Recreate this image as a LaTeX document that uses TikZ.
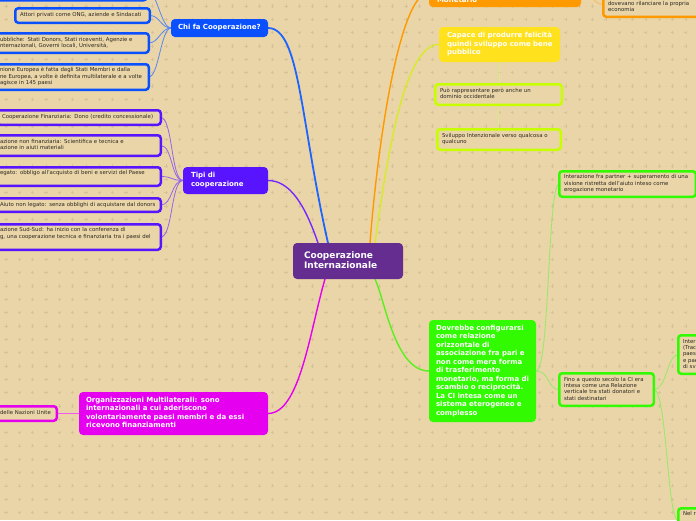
\documentclass[tikz,border=0pt]{standalone}
\usepackage{fontspec}
\setmainfont{DejaVu Sans}
\usetikzlibrary{calc}
\definecolor{bgc}{RGB}{233,213,167}
\definecolor{gridc}{RGB}{214,193,152}
\definecolor{txt}{RGB}{45,40,35}
\definecolor{cpurple}{RGB}{102,45,145}
\definecolor{cblue}{RGB}{10,80,255}
\definecolor{cviolet}{RGB}{88,20,255}
\definecolor{cmag}{RGB}{230,0,240}
\definecolor{cgreen}{RGB}{50,250,0}
\definecolor{cyellow}{RGB}{255,225,30}
\definecolor{cyg}{RGB}{200,255,0}
\definecolor{corange}{RGB}{255,153,0}
\definecolor{eblue}{RGB}{30,100,255}
\definecolor{eblueL}{RGB}{90,135,240}
\definecolor{eviolet}{RGB}{120,40,255}
\definecolor{evioletL}{RGB}{150,100,235}
\definecolor{emagL}{RGB}{240,90,240}
\definecolor{egreen}{RGB}{90,240,30}
\definecolor{egreenL}{RGB}{150,235,100}
\definecolor{eyellow}{RGB}{215,235,40}
\definecolor{eyellowL}{RGB}{215,235,130}
\definecolor{eorangeL}{RGB}{255,185,90}
\pgfdeclarelayer{bglayer}
\pgfdeclarelayer{edges}
\pgfsetlayers{bglayer,edges,main}
\newcommand\smallf{\fontsize{5.4}{6.3}\selectfont}
\newcommand\titlef{\fontsize{7}{8.5}\selectfont\bfseries}
\newcommand\bigf{\fontsize{9}{10}\selectfont\bfseries}
\newcommand\txl[1]{\begin{tabular}{@{}l@{}}#1\end{tabular}}
\tikzset{
  outbox/.style={draw=#1, line width=2.5pt, rounded corners=3pt, fill=bgc, text=txt,
    font=\smallf, align=left, inner xsep=4.75pt, inner ysep=0pt, outer sep=0pt, anchor=north west},
  fillbox/.style={fill=#1, draw=none, rounded corners=4pt, text=white, align=left,
    inner ysep=0pt, outer sep=0pt, anchor=north west},
  mainedge/.style={line width=1.4pt},
  subedge/.style={line width=0.8pt}
}
% name, colour, x1, y1, x2, y2, content  (outer border measured)
\newcommand\mmOut[7]{%
  \pgfmathsetmacro\mbx{#3+1.25}\pgfmathsetmacro\mby{#4+1.25}%
  \pgfmathsetmacro\mbw{#5-#3-2.5}\pgfmathsetmacro\mbh{#6-#4-2.5}%
  \pgfmathsetmacro\mtw{#5-#3-12}%
  \node[outbox=#2, minimum width=\mbw pt, minimum height=\mbh pt, text width=\mtw pt] (#1) at (\mbx,\mby) {\txl{#7}};}
% name, colour, x1, y1, x2, y2, text x, options, content
\newcommand\mmFill[9]{%
  \pgfmathsetmacro\mxs{#7-#3}%
  \pgfmathsetmacro\mbw{#5-#3}\pgfmathsetmacro\mbh{#6-#4}%
  \pgfmathsetmacro\mtw{#5-#3-2*(#7-#3)}%
  \node[fillbox=#2, #8, inner xsep=\mxs pt, minimum width=\mbw pt, minimum height=\mbh pt, text width=\mtw pt] (#1) at (#3,#4) {\txl{#9}};}
\begin{document}
\begin{tikzpicture}[x=1pt,y=-1pt]
\useasboundingbox (0,0) rectangle (696,520);
\begin{pgfonlayer}{bglayer}
\fill[bgc] (0,0) rectangle (696,520);
\draw[gridc, line width=0.6pt] \foreach \i in {0,...,52}{\foreach \j in {0,...,39}{
  ({\i*13.33+6},{\j*13.33+6}) +(-1.6,0) -- +(1.6,0) +(0,-1.6) -- +(0,1.6)}};
\end{pgfonlayer}

% main nodes
\mmFill{cen}{cpurple}{293}{243}{403}{279}{304}{font=\bigf}{Cooperazione\\Internazionale}
\mmFill{chi}{cblue}{171}{19}{268}{37}{178}{font=\titlef}{Chi fa Cooperazione?}
\mmFill{tipi}{cviolet}{183}{167}{268}{194}{191}{font=\titlef}{Tipi di\\cooperazione}
\mmFill{mul}{cmag}{79}{392}{268}{435}{86}{font=\titlef}{Organizzazioni Multilaterali: sono\\internazionali a cui aderiscono\\volontariamente paesi membri e da essi\\ricevono finanziamenti}
\mmFill{cap}{cyellow}{439}{27}{560}{62}{447}{font=\titlef}{Capace di produrre felicità\\quindi sviluppo come bene\\pubblico}
\mmFill{dov}{cgreen}{429}{320}{536}{422}{436}{font=\titlef}{Dovrebbe configurarsi\\come relazione\\orizzontale di\\associazione fra pari e\\non come mera forma\\di trasferimento\\monetario, ma forma di\\scambio o reciprocità.\\La CI intesa come un\\sistema eterogeneo e\\complesso}
\mmFill{ora}{corange}{429}{-22}{581}{7}{437}{font=\titlef}{~\\~\\Monetario}

% child nodes
\mmOut{btop}{cblue}{-10}{-22}{148}{1.5}{~}
\mmOut{att}{cblue}{14}{7}{151}{24}{Attori privati come ONG, aziende e Sindacati}
\mmOut{pub}{cblue}{-6}{32}{150}{54}{ubbliche: Stati Donors, Stati riceventi, Agenzie e\\nternazionali, Governi locali, Università,}
\mmOut{ue}{cblue}{-6}{63}{150}{91}{nione Europea è fatta dagli Stati Membri e dalla\\ne Europea, a volte è definita multilaterale e a volte\\agisce in 145 paesi}
\mmOut{ta}{cviolet}{-4}{109}{162}{126}{Cooperazione Finanziaria: Dono (credito concessionale)}
\mmOut{tb}{cviolet}{-6}{134}{162}{157}{azione non finanziaria: Scientifica e tecnica e\\azione in aiuti materiali}
\mmOut{tc}{cviolet}{-6}{166}{162}{187}{egato: obbligo all'acquisto di beni e servizi del Paese\\~}
\mmOut{td}{cviolet}{-6}{197}{162}{213}{Aiuto non legato: senza obblighi di acquistare dal donors}
\mmOut{te}{cviolet}{-6}{223}{162}{251}{azione Sud-Sud: ha inizio con la conferenza di\\g, una cooperazione tecnica e finanziaria tra i paesi del\\~}
\mmOut{mch}{cmag}{-6}{405}{58}{422}{delle Nazioni Unite}
\mmOut{ya}{cyg}{434}{83}{563}{106}{Può rappresentare però anche un\\dominio occidentale}
\mmOut{yb}{cyg}{436}{128}{562}{151}{Sviluppo Intenzionale verso qualcosa o\\qualcuno}
\mmOut{otr}{corange}{602}{-9.4}{712}{18}{~\\dovevano rilanciare la propria\\economia}
\mmOut{gi}{cgreen}{558}{170}{697}{198}{Interazione fra partner + superamento di una\\visione ristretta dell'aiuto inteso come\\erogazione monetario}
\mmOut{gf}{cgreen}{558}{372}{655}{407}{Fino a questo secolo la CI era\\intesa come una Relazione\\verticale tra stati donatori e\\stati destinatari}
\mmOut{ga}{cgreen}{677}{334}{730}{375}{Inter\\(Trac\\paes\\e pae\\di sv}
\mmOut{gb}{cgreen}{677}{507}{730}{533.6}{Nel r\\~\\~}

\begin{pgfonlayer}{edges}
\draw[eblue, line width=1.8pt] (chi.east) .. controls (300,28) and (300,120) .. ($(cen.north west)+(35,0)$);
\draw[eviolet, mainedge] (tipi.east) .. controls (290,180.5) and (305,205) .. ($(cen.north west)+(25,0)$);
\draw[corange, mainedge] ($(cen.north west)+(77,0)$) .. controls (378,140) and (400,-7.5) .. (ora.west);
\draw[eyellow, mainedge] ($(cen.north west)+(82,0)$) .. controls (388,150) and (405,44.5) .. (cap.west);
\draw[cmag, mainedge] ($(cen.south west)+(32,0)$) .. controls (310,330) and (300,413.5) .. (mul.east);
\draw[egreen, mainedge] ($(cen.south west)+(82,0)$) .. controls (385,300) and (395,371) .. (dov.west);
\foreach \c in {btop,att,pub,ue}
  \draw[eblueL, subedge] (chi.west) .. controls +(-10,0) and +(10,0) .. (\c.east);
\foreach \c in {ta,tb,tc,td,te}
  \draw[evioletL, subedge] (tipi.west) .. controls +(-12,0) and +(12,0) .. (\c.east);
\draw[emagL, subedge] (mul.west) -- (mch.east);
\draw[eyellowL, subedge] (cap.south) -- (cap.south |- ya.north);
\draw[eyellowL, subedge] (ya.south) -- (ya.south |- yb.north);
\draw[eorangeL, subedge] (ora.east) .. controls +(10,0) and +(-10,0) .. (otr.west);
\foreach \c in {gi,gf}
  \draw[egreenL, subedge] (dov.east) .. controls +(14,0) and +(-12,0) .. (\c.west);
\foreach \c in {ga,gb}
  \draw[egreenL, subedge] (gf.east) .. controls +(13,0) and +(-11,0) .. (\c.west);
\end{pgfonlayer}
\end{tikzpicture}
\end{document}
